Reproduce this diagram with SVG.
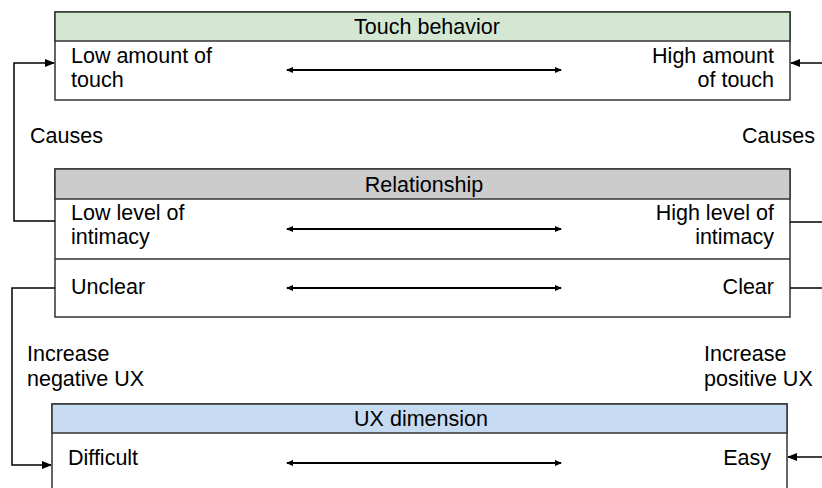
<svg xmlns="http://www.w3.org/2000/svg" width="822" height="488" viewBox="0 0 822 488">
<defs>
<marker id="ah" markerWidth="10" markerHeight="8" refX="9" refY="4" orient="auto" markerUnits="userSpaceOnUse">
<path d="M0,0 L10,4 L0,8 Z" fill="#000"/>
</marker>
<marker id="sh" markerWidth="7" markerHeight="6" refX="6" refY="3" orient="auto-start-reverse" markerUnits="userSpaceOnUse">
<path d="M0,0 L7,3 L0,6 Z" fill="#000"/>
</marker>
<style>
text{font-family:"Liberation Sans",Arial,sans-serif;font-size:21.5px;fill:#000}
.box{fill:#fff;stroke:#333;stroke-width:1.5}
.hd{stroke:#333;stroke-width:1.5}
.c{text-anchor:middle}
.r{text-anchor:end}
.ln{fill:none;stroke:#000;stroke-width:1.5}
.dbl{stroke:#000;stroke-width:2;marker-start:url(#sh);marker-end:url(#sh)}
</style>
</defs>
<rect width="822" height="488" fill="#fff"/>
<g id="touch-behavior">
<rect class="box" x="55" y="12" width="735" height="88"/>
<rect class="hd" x="55" y="12" width="735" height="29" fill="#d3e7d3"/>
<text class="c" x="427" y="34">Touch behavior</text>
<text x="71" y="63">Low amount of</text>
<text x="71" y="87">touch</text>
<text class="r" x="774" y="63">High amount</text>
<text class="r" x="774" y="87">of touch</text>
<line class="dbl" x1="287" y1="70" x2="561" y2="70"/>
</g>
<g id="relationship">
<rect class="box" x="55" y="169" width="735" height="148"/>
<rect class="hd" x="55" y="169" width="735" height="30" fill="#cccccc"/>
<line class="hd" x1="55" y1="259" x2="790" y2="259"/>
<text class="c" x="424" y="192">Relationship</text>
<text x="71" y="220">Low level of</text>
<text x="71" y="244">intimacy</text>
<text class="r" x="774" y="220">High level of</text>
<text class="r" x="774" y="244">intimacy</text>
<line class="dbl" x1="287" y1="229" x2="561" y2="229"/>
<text x="71" y="294">Unclear</text>
<text class="r" x="774" y="294">Clear</text>
<line class="dbl" x1="287" y1="288" x2="561" y2="288"/>
</g>
<g id="ux-dimension">
<rect class="box" x="52" y="404" width="735" height="100"/>
<rect class="hd" x="52" y="404" width="735" height="29" fill="#c6daf2"/>
<text class="c" x="421" y="426">UX dimension</text>
<text x="68" y="465">Difficult</text>
<text class="r" x="771" y="465">Easy</text>
<line class="dbl" x1="287" y1="463" x2="561" y2="463"/>
</g>
<g id="connectors">
<polyline class="ln" points="55,221 14,221 14,63 54,63" marker-end="url(#ah)"/>
<line class="ln" x1="822" y1="63" x2="791" y2="63" marker-end="url(#ah)"/>
<line class="ln" x1="790" y1="222" x2="822" y2="222"/>
<line class="ln" x1="790" y1="288" x2="822" y2="288"/>
<polyline class="ln" points="55,288 12,288 12,465 51,465" marker-end="url(#ah)"/>
<line class="ln" x1="822" y1="457" x2="788" y2="457" marker-end="url(#ah)"/>
</g>
<g id="labels">
<text x="30" y="143">Causes</text>
<text class="r" x="815" y="143">Causes</text>
<text x="27" y="361">Increase</text>
<text x="27" y="386">negative UX</text>
<text x="704" y="361">Increase</text>
<text x="704" y="386">positive UX</text>
</g>
</svg>
